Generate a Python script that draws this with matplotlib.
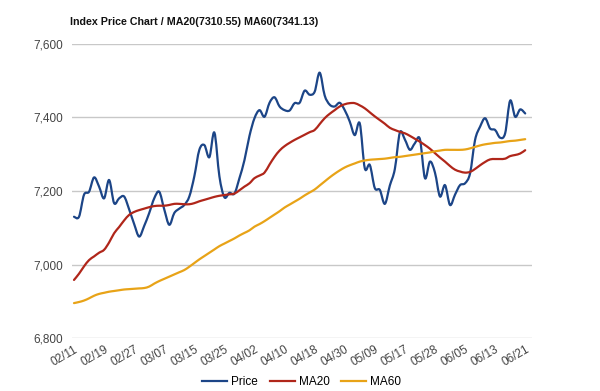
import matplotlib.pyplot as plt
from matplotlib.path import Path
from matplotlib.patches import PathPatch
import numpy as np

plt.rcParams['font.family'] = ['Liberation Sans', 'DejaVu Sans']

# tick labels every 6 trading days (91 sessions)
tick_labels = ['02/11', '02/19', '02/27', '03/07', '03/15', '03/25', '04/02', '04/10',
               '04/18', '04/30', '05/09', '05/17', '05/28', '06/05', '06/13', '06/21']

price = [7130, 7130, 7190, 7198, 7237, 7212, 7180, 7230, 7167, 7180,
         7185, 7150, 7110, 7076, 7105, 7140, 7180, 7198, 7150, 7108,
         7140, 7152, 7162, 7185, 7240, 7312, 7325, 7292, 7359, 7240,
         7183, 7195, 7193, 7235, 7284, 7350, 7398, 7420, 7402, 7440,
         7455, 7430, 7420, 7419, 7439, 7440, 7473, 7462, 7470, 7522,
         7460, 7435, 7430, 7440, 7420, 7389, 7352, 7384, 7262, 7271,
         7208, 7203, 7165, 7215, 7260, 7359, 7340, 7312, 7330, 7341,
         7235, 7280, 7250, 7185, 7216, 7162, 7190, 7216, 7221, 7248,
         7339, 7375, 7398, 7370, 7366, 7345, 7357, 7446, 7402, 7422,
         7411]

ma20 = [6958, 6975, 6995, 7012, 7022, 7032, 7040, 7060, 7085, 7102,
        7120, 7135, 7143, 7148, 7152, 7156, 7159, 7160, 7160, 7162,
        7165, 7165, 7164, 7164, 7167, 7172, 7176, 7180, 7184, 7187,
        7189, 7191, 7193, 7202, 7212, 7221, 7235, 7242, 7250, 7272,
        7293, 7310, 7322, 7331, 7339, 7346, 7353, 7360, 7366, 7382,
        7398, 7410, 7420, 7430, 7436, 7439, 7439, 7433, 7425, 7414,
        7403, 7393, 7383, 7372, 7366, 7361, 7357, 7350, 7342, 7334,
        7325, 7315, 7303, 7291, 7280, 7268, 7258, 7253, 7250, 7252,
        7260, 7270, 7279, 7286, 7287, 7287, 7288, 7295, 7298, 7302,
        7311]

ma60 = [6895, 6898, 6902, 6908, 6915, 6920, 6923, 6926, 6928, 6930,
        6932, 6933, 6934, 6935, 6936, 6940, 6948, 6955, 6961, 6967,
        6973, 6979, 6985, 6994, 7004, 7014, 7023, 7032, 7041, 7050,
        7057, 7064, 7071, 7079, 7086, 7093, 7103, 7110, 7118, 7127,
        7136, 7145, 7155, 7163, 7171, 7179, 7188, 7196, 7204, 7215,
        7226, 7237, 7247, 7256, 7264, 7270, 7275, 7280, 7283, 7285,
        7286, 7287, 7288, 7290, 7292, 7293, 7295, 7297, 7299, 7301,
        7303, 7305, 7308, 7310, 7312, 7312, 7312, 7312, 7313, 7316,
        7320, 7324, 7327, 7329, 7331, 7332, 7334, 7336, 7337, 7339,
        7341]


# smooth curve through the points (like a 'function' curve), drawn as bezier path
def smooth_path(xs, ys):
    p = np.column_stack([xs, ys]).astype(float)
    ext = np.vstack([p[0], p, p[-1]])
    verts = [p[0]]
    codes = [Path.MOVETO]
    for i in range(len(p) - 1):
        p0, p1, p2, p3 = ext[i], ext[i + 1], ext[i + 2], ext[i + 3]
        verts += [p1 + (p2 - p0) / 6, p2 - (p3 - p1) / 6, p2]
        codes += [Path.CURVE4] * 3
    return Path(verts, codes)


x = np.arange(len(price))

fig = plt.figure(figsize=(6, 3.91), dpi=100)
ax = fig.add_axes([0.1195, 0.1355, 0.7667, 0.752])

series = [('Price', price, '#1c4587'), ('MA20', ma20, '#b0261a'), ('MA60', ma60, '#e8a317')]
for name, vals, col in series:
    ax.add_patch(PathPatch(smooth_path(x, vals), fill=False, edgecolor=col, lw=1.6,
                           capstyle='round', joinstyle='round'))
    ax.plot([], [], color=col, lw=1.6, label=name)

ax.set_ylim(6800, 7600)
ax.set_yticks([6800, 7000, 7200, 7400, 7600])
ax.set_yticklabels(['6,800', '7,000', '7,200', '7,400', '7,600'])
ax.set_xlim(-0.46, 91.3)
ax.set_xticks(x[::6])
ax.set_xticklabels(tick_labels, rotation=30, ha='right', va='top', rotation_mode='anchor')

ax.grid(axis='y', color='#c8c8c8', lw=1)
ax.set_axisbelow(True)
for s in ax.spines.values():
    s.set_visible(False)
ax.tick_params(length=0, labelsize=8.5, colors='#444444', pad=6)
ax.tick_params(axis='x', pad=4)

fig.text(0.117, 0.945, 'Index Price Chart / MA20(7310.55) MA60(7341.13)',
         fontsize=7.7, fontweight='bold', color='#111111', va='center')

fig.legend(loc='center', bbox_to_anchor=(0.503, 0.022), ncol=3, frameon=False,
           fontsize=8.5, handlelength=2.1, columnspacing=1.0, handletextpad=0.35)

fig.savefig('out.png', dpi=100)
